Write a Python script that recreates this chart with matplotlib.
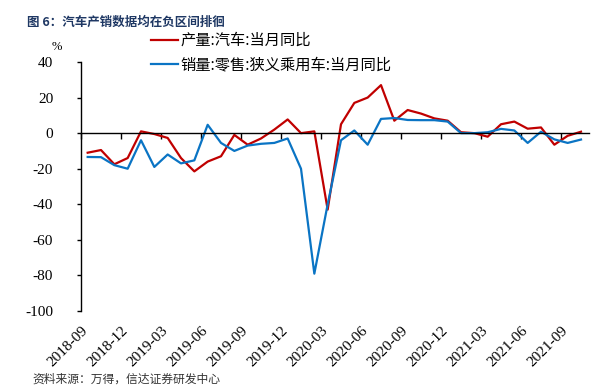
import matplotlib
matplotlib.use('Agg')
import matplotlib.pyplot as plt

plt.rcParams['font.family'] = ['Liberation Serif', 'Noto Sans CJK SC', 'DejaVu Sans']
plt.rcParams['axes.unicode_minus'] = False

# 月度数据 2018-09 ~ 2021-10
months = ['2018-09', '2018-10', '2018-11', '2018-12', '2019-01', '2019-02',
          '2019-03', '2019-04', '2019-05', '2019-06', '2019-07', '2019-08',
          '2019-09', '2019-10', '2019-11', '2019-12', '2020-01', '2020-02',
          '2020-03', '2020-04', '2020-05', '2020-06', '2020-07', '2020-08',
          '2020-09', '2020-10', '2020-11', '2020-12', '2021-01', '2021-02',
          '2021-03', '2021-04', '2021-05', '2021-06', '2021-07', '2021-08',
          '2021-09', '2021-10']

production = [-11.0, -9.5, -17.5, -14.0, 1.0, -0.5,
              -2.7, -14.0, -21.5, -16.0, -13.0, -1.0,
              -6.5, -3.0, 2.0, 7.7, 0.0, 1.0,
              -43.0, 5.0, 17.0, 20.0, 27.0, 7.0,
              13.0, 11.0, 8.3, 7.0, 0.5, 0.0,
              -2.0, 5.0, 6.5, 2.5, 3.2, -6.5,
              -1.5, 0.8]

retail = [-13.4, -13.5, -18.0, -20.0, -4.0, -19.0,
          -12.0, -17.0, -15.3, 4.7, -5.5, -10.0,
          -7.0, -6.0, -5.5, -3.0, -20.0, -79.0,
          -40.0, -4.0, 1.5, -6.5, 8.0, 8.5,
          7.4, 7.3, 7.3, 6.5, 0.0, 0.0,
          0.5, 2.4, 1.5, -5.5, 0.8, -3.5,
          -5.5, -3.6]

tick_labels = ['2018-09', '2018-12', '2019-03', '2019-06', '2019-09', '2019-12',
               '2020-03', '2020-06', '2020-09', '2020-12', '2021-03', '2021-06',
               '2021-09']

RED = '#C00000'
BLUE = '#0A74C4'

x = list(range(len(months)))
tick_pos = [months.index(t) - 0.5 for t in tick_labels]

fig = plt.figure(figsize=(6.07, 3.87), dpi=100)
ax = fig.add_axes([81 / 607, 1 - 311 / 387, 508 / 607, 249 / 387])

ax.plot(x, production, color=RED, lw=1.6, solid_joinstyle='round',
        label='产量:汽车:当月同比')
ax.plot(x, retail, color=BLUE, lw=1.6, solid_joinstyle='round',
        label='销量:零售:狭义乘用车:当月同比')

ax.set_xlim(-0.5, 37.6)
ax.set_ylim(-100, 40)
ax.set_yticks(range(-100, 41, 20))
ax.tick_params(axis='y', direction='out', length=3, width=1,
               labelsize=11, pad=17)

for s in ['top', 'right']:
    ax.spines[s].set_visible(False)
ax.spines['left'].set_linewidth(1)
ax.spines['bottom'].set_position(('data', 0))
ax.spines['bottom'].set_linewidth(1)
ax.set_xticks(tick_pos)
ax.tick_params(axis='x', direction='out', length=4, width=1, labelbottom=False)

sec = ax.secondary_xaxis('bottom')
sec.set_xticks(tick_pos, labels=tick_labels)
sec.spines['bottom'].set_visible(False)
sec.tick_params(length=0, pad=9, labelsize=11)
for lbl in sec.get_xticklabels():
    lbl.set_rotation(45)
    lbl.set_ha('right')
    lbl.set_rotation_mode('anchor')

fig.text(57 / 607, 1 - 47 / 387, '%', fontsize=9, ha='center', va='center')

fig.legend(loc='upper left', bbox_to_anchor=(151 / 607, 1 - 32 / 387),
           frameon=False, handlelength=1.75, handletextpad=0.2,
           labelspacing=0.45, borderpad=0, borderaxespad=0,
           prop={'family': ['Noto Sans CJK SC'], 'size': 11})

fig.text(27 / 607, 1 - 22 / 387, '图 6：汽车产销数据均在负区间排徊',
         fontsize=9, fontweight='bold', color='#1F3864', ha='left', va='center',
         family=['Noto Sans CJK SC', 'DejaVu Sans'])

fig.text(32 / 607, 1 - 386 / 387, '资料来源：万得，信达证券研发中心',
         fontsize=8.5, ha='left', va='bottom', color='#333333',
         family=['Noto Sans CJK SC', 'DejaVu Sans'])

fig.savefig('out.png', dpi=100)
